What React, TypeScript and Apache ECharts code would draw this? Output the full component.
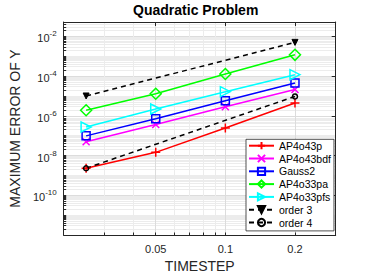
import React, { useEffect, useRef } from "react";
import * as echarts from "echarts";

const timesteps = [0.025, 0.05, 0.1, 0.2];
const ap4o43p = [2.3e-9, 1.45e-8, 2.45e-7, 4.4e-6];
const ap4o43bdf = [5.0e-8, 3.7e-7, 2.9e-6, 2.1e-5];
const gauss2 = [9.8e-8, 7.2e-7, 5.8e-6, 4.5e-5];
const ap4o33pa = [1.9e-6, 1.3e-5, 1.28e-4, 1.18e-3];
const ap4o33pfs = [2.75e-7, 2.2e-6, 1.65e-5, 1.18e-4];
const orderSteps = [0.025, 0.2];
const order3 = [1.0e-5, 5.0e-3];
const order4 = [2.3e-9, 9.5e-6];
const xTickLabels = [0.05, 0.1, 0.2];
const yTickExponents = [-10, -8, -6, -4, -2];

const FONT = "'Liberation Sans', Arial, Helvetica, sans-serif";
const AX = "#262626";

const lg = Math.log10;

function pts(xs: number[], ys: number[]) {
  return xs.map((x, i) => [lg(x), lg(ys[i])]);
}

// minor log positions
const xMinor: number[] = [];
for (const d of [0.01, 0.1]) {
  for (let m = 1; m <= 9; m++) {
    const v = m * d;
    if (v >= 0.02 - 1e-9 && v <= 0.3 + 1e-9) xMinor.push(lg(v));
  }
}
const yMinor: number[] = [];
for (let e = -12; e <= -2; e++) {
  for (let m = 1; m <= 9; m++) {
    const l = e + lg(m);
    if (l <= -1.275) yMinor.push(l);
  }
}

export default function App() {
  const ref = useRef<HTMLDivElement>(null);
  useEffect(() => {
    const chart = echarts.init(ref.current!, null, { renderer: "svg" });
    const hollow = (c: string) => ({ color: "none", borderColor: c, borderWidth: 1.5 });
    const mk = (
      name: string,
      xs: number[],
      ys: number[],
      color: string,
      symbol: string,
      size: number,
      itemStyle: any,
      dashed = false,
      rotate = 0
    ) => ({
      name,
      type: "line",
      data: pts(xs, ys),
      symbol,
      symbolSize: size,
      symbolRotate: rotate,
      showAllSymbol: true,
      lineStyle: { color, width: 1.5, type: dashed ? [5, 4] : "solid" },
      itemStyle,
      color,
      z: 5,
    });
    chart.setOption({
      animation: false,
      textStyle: { fontFamily: FONT },
      title: {
        text: "Quadratic Problem",
        left: 195.7,
        textAlign: "center",
        top: 3,
        padding: 0,
        textStyle: { fontSize: 14, fontWeight: "bold", color: "#000", fontFamily: FONT },
      },
      grid: { left: 55.7, right: 35.3, top: 22, bottom: 40.7, containLabel: false },
      legend: {
        orient: "vertical",
        left: 246,
        top: 139.3,
        padding: [0, 3, 2, 2],
        itemWidth: 25,
        itemHeight: 9,
        itemGap: 0,
        backgroundColor: "#fff",
        borderColor: AX,
        borderWidth: 0.8,
        borderRadius: 0,
        textStyle: { fontSize: 10.5, lineHeight: 12.8, color: "#000", fontFamily: FONT },
        data: ["AP4o43p", "AP4o43bdf", "Gauss2", "AP4o33pa", "AP4o33pfs", "order 3", "order 4"],
      },
      xAxis: [
        {
          type: "value",
          min: lg(0.02),
          max: lg(0.3),
          position: "bottom",
          name: "TIMESTEP",
          nameLocation: "middle",
          nameGap: 24,
          nameTextStyle: { fontSize: 14, color: AX, fontFamily: FONT },
          axisLine: { show: true, lineStyle: { color: AX, width: 1 } },
          axisTick: { show: true, inside: true, length: 2.5, customValues: xMinor, lineStyle: { color: AX } },
          axisLabel: {
            customValues: xTickLabels.map(lg),
            formatter: (v: number) => String(Math.round(Math.pow(10, v) * 1000) / 1000),
            fontSize: 11,
            color: AX,
            margin: 8,
            fontFamily: FONT,
          },
          splitLine: { show: true, lineStyle: { color: "#ececec", width: 1 } },
        },
        {
          type: "value",
          min: lg(0.02),
          max: lg(0.3),
          position: "top",
          axisLine: { show: true, lineStyle: { color: AX, width: 1 } },
          axisTick: { show: true, inside: true, length: 4, customValues: xTickLabels.map(lg), lineStyle: { color: AX } },
          axisLabel: { show: false, customValues: xTickLabels.map(lg) },
          splitLine: { show: true, lineStyle: { color: "#dcdcdc", width: 1 } },
        },
      ],
      yAxis: [
        {
          type: "value",
          min: -12,
          max: -1.275,
          position: "left",
          name: "MAXIMUM ERROR OF Y",
          nameLocation: "middle",
          nameGap: 41,
          nameTextStyle: { fontSize: 14, color: AX, fontFamily: FONT },
          axisLine: { show: true, lineStyle: { color: AX, width: 1 } },
          axisTick: { show: true, inside: true, length: 2.5, customValues: yMinor, lineStyle: { color: AX } },
          axisLabel: {
            customValues: yTickExponents,
            formatter: (v: number) => `{b|10}{s|${Math.round(v)}}`,
            margin: 7,
            color: AX,
            rich: {
              b: { fontSize: 11, color: AX, fontFamily: FONT, padding: [4, 0, 0, 0] },
              s: { fontSize: 8, color: AX, fontFamily: FONT, padding: [0, 0, 5, 0] },
            },
          },
          splitLine: { show: true, lineStyle: { color: "#ececec", width: 1 } },
        },
        {
          type: "value",
          min: -12,
          max: -1.275,
          position: "right",
          axisLine: { show: true, lineStyle: { color: AX, width: 1 } },
          axisTick: { show: true, inside: true, length: 4, customValues: yTickExponents.concat([-12]), lineStyle: { color: AX } },
          axisLabel: { show: false, customValues: yTickExponents },
          splitLine: { show: true, lineStyle: { color: "#dcdcdc", width: 1 } },
        },
      ],
      series: [
        mk("AP4o43p", timesteps, ap4o43p, "#ff0000", "path://M5,0L5,10M0,5L10,5", 9, hollow("#ff0000")),
        mk("AP4o43bdf", timesteps, ap4o43bdf, "#ff00ff", "path://M0,0L10,10M0,10L10,0", 7, hollow("#ff00ff")),
        mk("Gauss2", timesteps, gauss2, "#0000ff", "rect", 8, hollow("#0000ff")),
        mk("AP4o33pa", timesteps, ap4o33pa, "#00ff00", "diamond", 11, hollow("#00ff00")),
        mk("AP4o33pfs", timesteps, ap4o33pfs, "#00ffff", "triangle", 10, hollow("#00ffff"), false, -90),
        mk("order 3", orderSteps, order3, "#000000", "triangle", 6, { color: "#000", borderColor: "#000", borderWidth: 1 }, true, 180),
        mk("order 4", orderSteps, order4, "#000000", "circle", 5, hollow("#000"), true),
      ],
    });
    return () => chart.dispose();
  }, []);
  return (
    <div
      ref={ref}
      style={{ position: "fixed", left: 0, top: 0, width: 371, height: 278, background: "#fff" }}
    />
  );
}
